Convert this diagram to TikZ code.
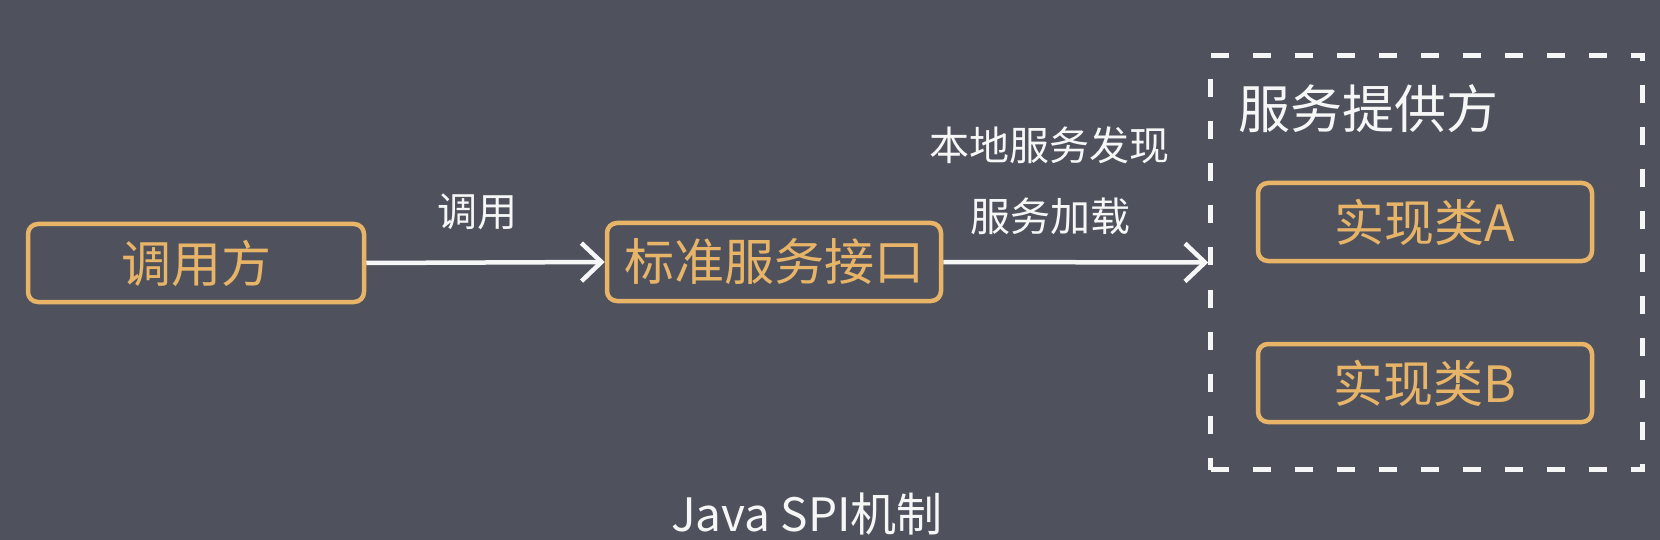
\documentclass[tikz,border=0pt]{standalone}
\usepackage{fontspec}
\setmainfont{Noto Sans CJK SC}
\usetikzlibrary{positioning,arrows.meta}
\definecolor{spiBack}{HTML}{4F525D}
\definecolor{spiOrange}{HTML}{E8B568}
\definecolor{spiWhite}{HTML}{F6F6F6}

\begin{document}
\begin{tikzpicture}[x=1pt, y=-1pt,
  spiBox/.style={draw=spiOrange, line width=4.5pt, rounded corners=10pt,
    text=spiOrange, minimum width=334pt, minimum height=78pt, inner sep=0pt,
    font=\fontsize{50}{54}\selectfont},
  spiArrow/.style={spiWhite, line width=4.5pt,
    -{Straight Barb[length=20pt, width=38pt]}},
  spiLabel/.style={text=spiWhite, inner sep=0pt, font=\fontsize{40}{44}\selectfont}]

% --- CANVAS ---
\fill[spiBack] (0,0) rectangle (1660,540);
\useasboundingbox (0,0) rectangle (1660,540);

% --- BOXES ---
\node[spiBox, minimum width=336pt] (caller) at (196,263) {调用方};
\node[spiBox] (iface) at (774,262) {标准服务接口};

% --- PROVIDER (dashed frame) ---
\node[draw=spiWhite, line width=4.5pt, dash pattern=on 18pt off 24pt,
  minimum width=432pt, minimum height=414pt, inner sep=0pt]
  (provider) at (1426.5,262.5) {};
\node[anchor=west, text=spiWhite, inner sep=0pt, font=\fontsize{52}{56}\selectfont]
  (provTitle) at (1238,109) {服务提供方};
\node[spiBox] (implA) at (1425,222) {实现类A};
\node[spiBox] (implB) at (1425,383) {实现类B};

% --- CONNECTORS ---
\draw[spiArrow] (caller.east) -- (iface.west);
\draw[spiArrow] (iface.east) -- (provider.west);

% --- LABELS ---
\node[spiLabel] (callLbl) at (477,212) {调用};
\node[spiLabel] (findLbl) at (1049,145) {本地服务发现};
\node[spiLabel] (loadLbl) at (1050,216) {服务加载};
\node[spiLabel, font=\fontsize{46}{50}\selectfont] (title) at (807,514) {Java SPI机制};

\end{tikzpicture}
\end{document}
